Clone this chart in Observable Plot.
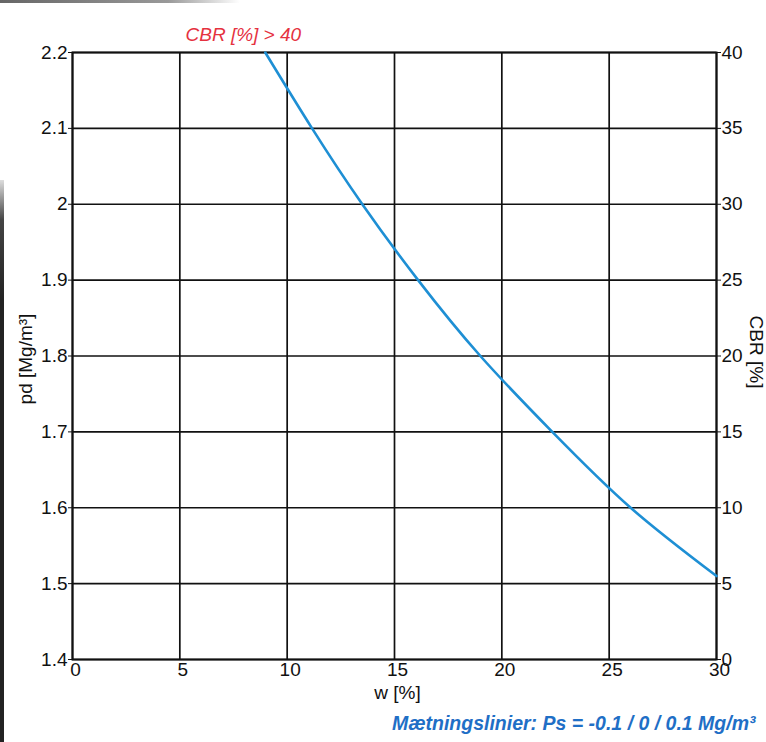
<!DOCTYPE html>
<html>
<head>
<meta charset="utf-8">
<script src="https://cdn.jsdelivr.net/npm/d3@7"></script>
<script src="https://cdn.jsdelivr.net/npm/@observablehq/plot@0.6"></script>
<style>
  html, body { margin: 0; padding: 0; background: #fff; }
  #wrap { position: relative; width: 766px; height: 742px; overflow: hidden; }
  #edgeL { position: absolute; left: 0; top: 180px; width: 4px; height: 570px; background: linear-gradient(#ddd, #444 40px, #222 120px, #222); }
  #edgeT { position: absolute; left: 0; top: 0; width: 240px; height: 3px; background: linear-gradient(90deg, #666, #999 70%, rgba(255,255,255,0)); }
</style>
</head>
<body>
<div id="wrap"><div id="edgeL"></div><div id="edgeT"></div></div>
<script>
// Water content w [%] and CBR [%]
const wValues   = [8.98, 11.16, 13.5, 16.1, 19.0, 22.35, 26.0, 30.0];
const cbrValues = [40.0, 35.0, 30.0, 25.0, 20.0, 15.0, 10.0, 5.5];

const xTicks   = [0, 5, 10, 15, 20, 25, 30];
const pdTicks  = [1.4, 1.5, 1.6, 1.7, 1.8, 1.9, 2.0, 2.1, 2.2];
const cbrTicks = [0, 5, 10, 15, 20, 25, 30, 35, 40];

const titleText  = "CBR [%] > 40";
const xLabel     = "w [%]";
const yLabel     = "pd [Mg/m³]";
const y2Label    = "CBR [%]";
const noteText   = "Mætningslinier: Ps = -0.1 / 0 / 0.1 Mg/m³";

// CBR (0..40) shares the plot with pd (1.4..2.2)
const cbrToPd = c => 1.4 + c * (0.8 / 40);
const pdToCbr = p => Math.round((p - 1.4) * 40 / 0.8);

const curve = wValues.map((w, i) => ({w, cbr: cbrValues[i]}));

const font = "'Liberation Sans', Arial, Helvetica, sans-serif";
const ink = "#111";

const chart = Plot.plot({
  width: 766,
  height: 742,
  marginLeft: 72,
  marginRight: 50,
  marginTop: 52,
  marginBottom: 83,
  style: {fontFamily: font, fontSize: "19px", color: ink, background: "transparent"},
  x: {domain: [0, 30]},
  y: {domain: [1.4, 2.2]},
  marks: [
    Plot.ruleX(xTicks, {stroke: ink, strokeWidth: 1.7}),
    Plot.ruleY(pdTicks, {stroke: ink, strokeWidth: 1.7}),
    Plot.frame({stroke: ink, strokeWidth: 2}),
    Plot.axisY({anchor: "left", ticks: pdTicks, tickFormat: d => String(+d.toFixed(1)), tickSize: 4, tickPadding: 1, label: null, fontSize: 19, stroke: ink}),
    Plot.axisY({anchor: "right", ticks: cbrTicks.map(cbrToPd), tickFormat: d => String(pdToCbr(d)), tickSize: 4, tickPadding: 1, label: null, fontSize: 19, stroke: ink}),
    Plot.axisX({anchor: "bottom", ticks: xTicks, tickFormat: d => String(d), tickSize: 0, tickPadding: 3, label: null, fontSize: 19, dx: 3}),
    Plot.line(curve, {x: "w", y: d => cbrToPd(d.cbr), stroke: "#1e8fd4", strokeWidth: 2.6, curve: "natural"}),
    Plot.text([titleText], {frameAnchor: "top-left", textAnchor: "start", lineAnchor: "top", dx: 113, dy: -25, fill: "#e5323f", fontSize: 19, fontStyle: "italic"}),
    Plot.text([xLabel], {frameAnchor: "bottom", lineAnchor: "bottom", dx: 3, dy: 39, fill: ink, fontSize: 19}),
    Plot.text([yLabel], {frameAnchor: "left", textAnchor: "middle", lineAnchor: "middle", dx: -47, dy: 3, rotate: -90, fill: ink, fontSize: 19}),
    Plot.text([y2Label], {frameAnchor: "right", textAnchor: "middle", lineAnchor: "middle", dx: 40, dy: -4, rotate: 90, fill: ink, fontSize: 19}),
    Plot.text([noteText], {frameAnchor: "bottom-right", textAnchor: "end", lineAnchor: "middle", dx: 39, dy: 64, fill: "#1f6fc6", fontSize: 19.5, fontStyle: "italic", fontWeight: "bold"})
  ]
});
document.getElementById("wrap").prepend(chart);
</script>
</body>
</html>
